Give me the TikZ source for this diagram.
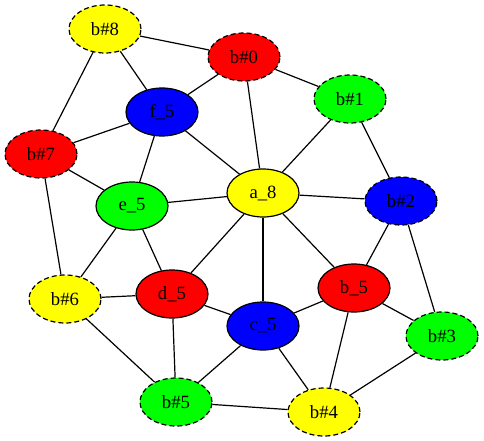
\documentclass[tikz,border=0pt]{standalone}
\usepackage{fontspec}
\setmainfont{Liberation Serif}
\usetikzlibrary{shapes.geometric}
\definecolor{gvyellow}{RGB}{255,255,0}
\definecolor{gvred}{RGB}{255,0,0}
\definecolor{gvgreen}{RGB}{0,255,0}
\definecolor{gvblue}{RGB}{0,0,255}
\tikzset{
  vtx/.style={ellipse, draw, line width=1.2pt, minimum width=72pt,
    minimum height=48pt, inner sep=0pt,
    font=\fontsize{18.7}{22}\selectfont},
  inner/.style={vtx},
  outer/.style={vtx, dash pattern=on 5pt off 3pt},
  link/.style={line width=1.2pt},
}
\begin{document}
\begin{tikzpicture}[x=1pt,y=-1pt]
  \useasboundingbox (0,0) rectangle (484,441);
  % Inner wheel
  \node[inner,fill=gvyellow] (a8) at (263,193) {a\_8};
  \node[inner,fill=gvred]    (b5) at (354,288) {b\_5};
  \node[inner,fill=gvblue]   (c5) at (263,326) {c\_5};
  \node[inner,fill=gvred]    (d5) at (172,294) {d\_5};
  \node[inner,fill=gvgreen]  (e5) at (132,206) {e\_5};
  \node[inner,fill=gvblue]   (f5) at (162,112) {f\_5};
  % Outer ring
  \node[outer,fill=gvred]    (r0) at (244,57)  {b\#0};
  \node[outer,fill=gvgreen]  (r1) at (350,99)  {b\#1};
  \node[outer,fill=gvblue]   (r2) at (401,201) {b\#2};
  \node[outer,fill=gvgreen]  (r3) at (442,336) {b\#3};
  \node[outer,fill=gvyellow] (r4) at (324,412) {b\#4};
  \node[outer,fill=gvgreen]  (r5) at (176,402) {b\#5};
  \node[outer,fill=gvyellow] (r6) at (65,299)  {b\#6};
  \node[outer,fill=gvred]    (r7) at (41,154)  {b\#7};
  \node[outer,fill=gvyellow] (r8) at (105,29)  {b\#8};
  % Edges
  \foreach \u/\v in {r8/r0, r8/f5, r8/r7, r0/f5, r0/a8, r0/r1, r1/a8, r1/r2,
      f5/r7, f5/a8, f5/e5, r7/e5, r7/r6, a8/e5, a8/r2, a8/d5, a8/c5, a8/b5,
      r2/b5, r2/r3, e5/r6, e5/d5, r6/d5, r6/r5, d5/c5, d5/r5, b5/c5, b5/r3,
      b5/r4, c5/r5, c5/r4, r3/r4, r5/r4}
    \draw[link] (\u) -- (\v);
\end{tikzpicture}
\end{document}
